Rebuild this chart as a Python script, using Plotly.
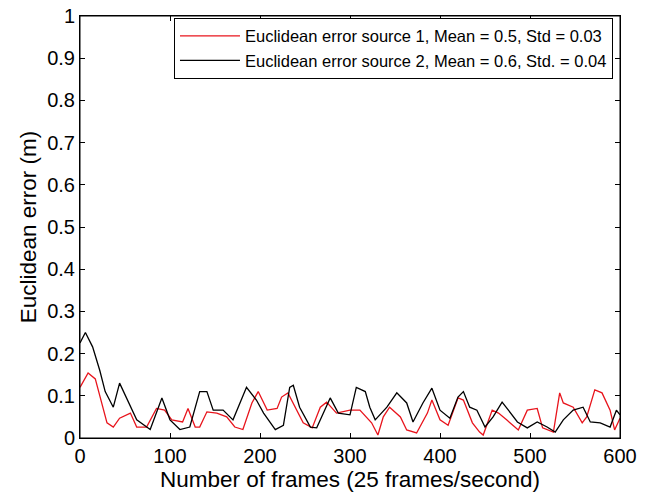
import plotly.graph_objects as go

# Series 1 (red) keypoints
frames_1 = [0, 9, 17, 24, 30, 37, 44, 56, 63, 74, 85, 94, 102, 114, 120, 128, 133, 141, 152, 163,
            172, 181, 191, 198, 208, 219, 224, 231, 241, 248, 258, 267, 274, 285, 300, 311, 324,
            331, 337, 344, 356, 363, 374, 386, 391, 400, 409, 420, 426, 436, 444, 448, 458, 465,
            474, 487, 497, 508, 514, 526, 533, 537, 548, 558, 563, 572, 580, 589, 594, 600]
error_1 = [0.12, 0.154, 0.14, 0.083, 0.036, 0.026, 0.047, 0.059, 0.026, 0.026, 0.07, 0.066, 0.043,
           0.038, 0.07, 0.026, 0.026, 0.062, 0.059, 0.05, 0.026, 0.02, 0.083, 0.11, 0.066, 0.07,
           0.097, 0.107, 0.066, 0.036, 0.024, 0.073, 0.085, 0.059, 0.066, 0.066, 0.036, 0.007,
           0.05, 0.073, 0.05, 0.019, 0.012, 0.059, 0.09, 0.043, 0.03, 0.095, 0.09, 0.036, 0.014,
           0.007, 0.066, 0.059, 0.043, 0.019, 0.066, 0.07, 0.024, 0.014, 0.107, 0.083, 0.073,
           0.036, 0.05, 0.114, 0.107, 0.066, 0.019, 0.047]

# Series 2 (black) keypoints
frames_2 = [0, 6, 14, 22, 28, 37, 44, 58, 63, 78, 91, 100, 111, 122, 133, 141, 148, 159, 170, 185,
            196, 204, 217, 226, 233, 237, 244, 256, 263, 278, 287, 300, 307, 317, 322, 328, 341,
            352, 363, 370, 381, 391, 400, 411, 420, 426, 433, 441, 450, 459, 469, 476, 486, 497,
            508, 519, 528, 537, 548, 559, 567, 578, 589, 596, 600]
error_2 = [0.225, 0.25, 0.216, 0.16, 0.11, 0.073, 0.13, 0.066, 0.043, 0.02, 0.095, 0.043, 0.02,
           0.026, 0.11, 0.11, 0.066, 0.066, 0.043, 0.12, 0.09, 0.059, 0.02, 0.03, 0.12, 0.125,
           0.073, 0.026, 0.024, 0.095, 0.059, 0.055, 0.12, 0.11, 0.073, 0.043, 0.073, 0.107,
           0.083, 0.038, 0.083, 0.118, 0.066, 0.047, 0.097, 0.11, 0.073, 0.066, 0.026, 0.05,
           0.085, 0.066, 0.038, 0.024, 0.038, 0.026, 0.014, 0.043, 0.066, 0.073, 0.038, 0.036,
           0.026, 0.066, 0.055]

names = ["Euclidean error source 1, Mean = 0.5, Std = 0.03",
         "Euclidean error source 2, Mean = 0.6, Std. = 0.04"]
x_ticks = [0, 100, 200, 300, 400, 500, 600]
y_ticks = [0, 0.1, 0.2, 0.3, 0.4, 0.5, 0.6, 0.7, 0.8, 0.9, 1]
y_tick_labels = ["0", "0.1", "0.2", "0.3", "0.4", "0.5", "0.6", "0.7", "0.8", "0.9", "1"]

fig = go.Figure()
fig.add_trace(go.Scatter(x=frames_1, y=error_1, mode="lines", name=names[0],
                         line=dict(color="#e8141c", width=1.3)))
fig.add_trace(go.Scatter(x=frames_2, y=error_2, mode="lines", name=names[1],
                         line=dict(color="#000000", width=1.3)))

font_family = "Liberation Sans, Arial, sans-serif"
axis_common = dict(showgrid=False, zeroline=False, showline=True, linecolor="black", linewidth=1,
                   mirror="allticks", ticks="inside", ticklen=5, tickcolor="black",
                   automargin=False, ticklabeloverflow="allow",
                   tickfont=dict(size=20, color="black", family=font_family))

fig.update_layout(
    width=649, height=495,
    margin=dict(l=80, r=29, t=16, b=57),
    paper_bgcolor="white", plot_bgcolor="white",
    font=dict(family=font_family, color="black"),
    showlegend=True,
    legend=dict(x=0.987, xanchor="right", y=0.996, yanchor="top",
                bordercolor="black", borderwidth=1, bgcolor="white",
                font=dict(size=16.5, color="black", family=font_family),
                tracegroupgap=0, itemwidth=60),
    shapes=[dict(type="rect", xref="paper", yref="paper", x0=0, y0=0, x1=1, y1=1,
                 line=dict(color="black", width=1), fillcolor="rgba(0,0,0,0)", layer="above")],
)
fig.update_xaxes(range=[0, 600], tickvals=x_ticks,
                 title=dict(text="Number of frames (25 frames/second)", font=dict(size=22.5), standoff=2),
                 **axis_common)
fig.update_yaxes(range=[0, 1], tickvals=y_ticks, ticktext=y_tick_labels,
                 title=dict(text="Euclidean error (m)", font=dict(size=22.5), standoff=4),
                 **axis_common)

# Remove the browser's default page margin so the figure sits at the top-left corner.
fig.write_html("out.html", config={"displayModeBar": False},
               post_script="document.body.style.margin='0px';")
